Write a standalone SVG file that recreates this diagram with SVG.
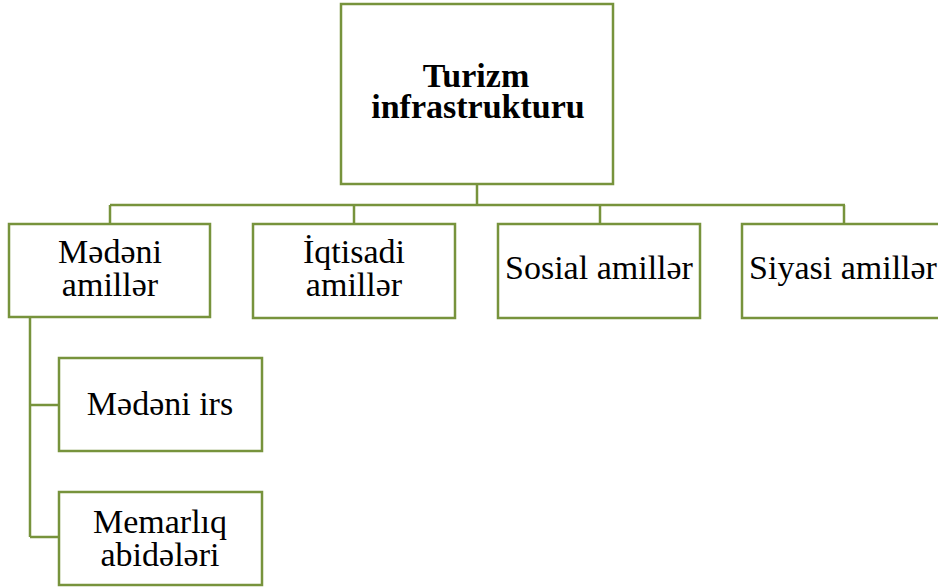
<svg xmlns="http://www.w3.org/2000/svg" width="938" height="587" viewBox="0 0 938 587">
<defs>
<style type="text/css">
.box{fill:#fff;stroke:#77933c;stroke-width:2.5}
.ln{fill:none;stroke:#77933c;stroke-width:2.5}
</style>
</defs>
<rect width="938" height="587" fill="#fff"/>
<g id="connectors">
<path class="ln" d="M477,184 V205 M110,205 H845 M110,205 V224 M354,205 V224 M600,205 V224 M844,205 V224"/>
<path class="ln" d="M30,317 V537 M30,405 H59 M30,537 H59"/>
</g>
<g font-family="Liberation Serif, Times New Roman, serif" text-anchor="middle" fill="#000">
<g id="root">
<rect class="box" x="341" y="4" width="272" height="180"/>
<text x="476" y="87" font-size="34" font-weight="bold">Turizm</text>
<text x="478" y="118" font-size="34" font-weight="bold">infrastrukturu</text>
</g>
<g id="medeni" font-size="34">
<rect class="box" x="9" y="224" width="201" height="93"/>
<text x="110" y="263">Mədəni</text>
<text x="110" y="296">amillər</text>
</g>
<g id="iqtisadi" font-size="34">
<rect class="box" x="253" y="224" width="202" height="94"/>
<text x="354" y="263">İqtisadi</text>
<text x="354" y="296">amillər</text>
</g>
<g id="sosial" font-size="34">
<rect class="box" x="498" y="224" width="202" height="94"/>
<text x="599" y="279">Sosial amillər</text>
</g>
<g id="siyasi" font-size="34">
<rect class="box" x="742" y="224" width="204" height="94"/>
<text x="843" y="279">Siyasi amillər</text>
</g>
<g id="medeni-irs" font-size="34">
<rect class="box" x="59" y="358" width="203" height="93"/>
<text x="160" y="415">Mədəni irs</text>
</g>
<g id="memarliq" font-size="34">
<rect class="box" x="59" y="492" width="203" height="93"/>
<text x="160" y="533">Memarlıq</text>
<text x="160" y="566">abidələri</text>
</g>
</g>
</svg>
